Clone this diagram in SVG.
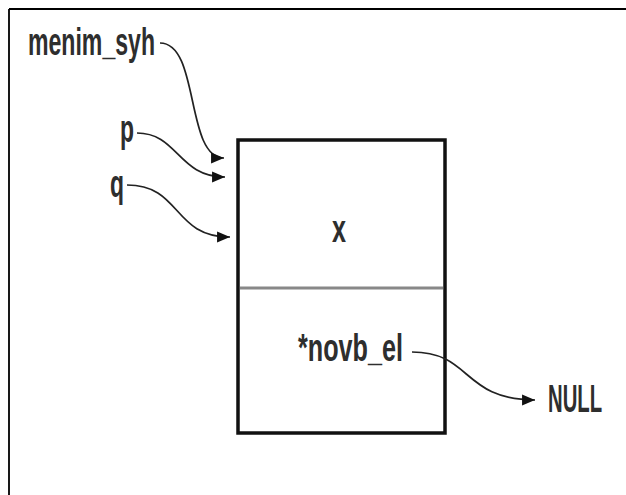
<svg xmlns="http://www.w3.org/2000/svg" width="626" height="495" viewBox="0 0 626 495">
<style>
.t{font-family:"Liberation Sans",Arial,sans-serif;font-weight:bold;font-size:39px;fill:#2e2e2e}
.c{fill:none;stroke:#222;stroke-width:1.7}
</style>
<defs>
<marker id="ah" markerUnits="userSpaceOnUse" markerWidth="14" markerHeight="12" refX="12" refY="5" orient="auto" viewBox="0 0 13 10">
<path d="M0,0 L12,5 L0,10 z" fill="#111"/>
</marker>
</defs>
<rect width="626" height="495" fill="#fff"/>
<g id="frame">
<path d="M9,9 H626 M9,9 V495" stroke="#000" stroke-width="1.8" fill="none"/>
</g>
<g id="node-box">
<rect x="238" y="140" width="207" height="293" fill="#fff" stroke="#111" stroke-width="3.5"/>
<line x1="240" y1="288" x2="443" y2="288" stroke="#888" stroke-width="2.8"/>
<text class="t" x="346" y="242" text-anchor="end" font-size="42" textLength="14" lengthAdjust="spacingAndGlyphs">x</text>
<text class="t" x="403" y="361" text-anchor="end" textLength="105" lengthAdjust="spacingAndGlyphs">*novb_el</text>
</g>
<g id="node-menim">
<text class="t" x="28" y="55" textLength="127" lengthAdjust="spacingAndGlyphs">menim_syh</text>
</g>
<g id="node-p">
<text class="t" x="120" y="142" textLength="14" lengthAdjust="spacingAndGlyphs">p</text>
</g>
<g id="node-q">
<text class="t" x="110" y="197" textLength="14" lengthAdjust="spacingAndGlyphs">q</text>
</g>
<g id="node-null">
<text class="t" transform="translate(548,412) scale(0.52,1)" x="0" y="0">NULL</text>
</g>
<g id="connectors">
<path class="c" d="M160,43 C200,43 185,158 224,158" marker-end="url(#ah)"/>
<path class="c" d="M137,133 C178,133 178,177 225,177" marker-end="url(#ah)"/>
<path class="c" d="M127,185 C182,185 172,237 230,237" marker-end="url(#ah)"/>
<path class="c" d="M412,352 C472,352 462,400 535,400" marker-end="url(#ah)"/>
</g>
</svg>
